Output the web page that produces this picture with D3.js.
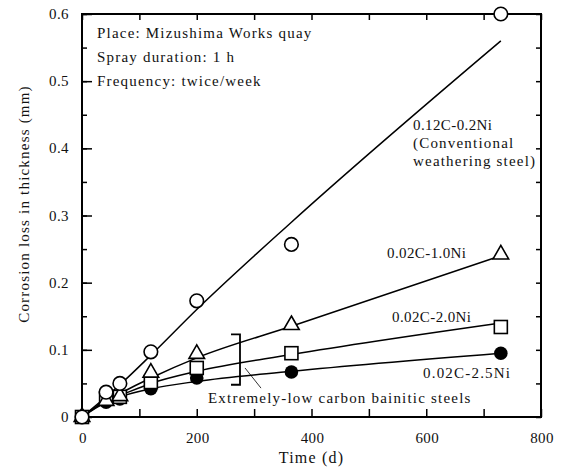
<html>
<head>
<style>
  body { margin:0; background:#fff; }
  text { font-family:"Liberation Serif", "DejaVu Serif", serif; fill:#111; font-size:15px; }
  .fit { fill:none; stroke:#000; stroke-width:1.5; }
  .frame { fill:none; stroke:#000; stroke-width:2; }
  .wide { letter-spacing:1.2px; }
  .num { letter-spacing:0.4px; }
</style>
</head>
<body>
<script src="https://cdn.jsdelivr.net/npm/d3@7/dist/d3.min.js"></script>
<script>
var width = 570, height = 473;
var margin = {top:14, right:29, bottom:56, left:82};

// measured exposure times (days)
var days = [0, 42, 66, 120, 200, 365, 730];
// measured corrosion loss (mm)
var steel012C02Ni = [0, 0.037, 0.050, 0.097, 0.173, 0.257, 0.600];
var steel002C10Ni = [0, 0.024, 0.031, 0.066, 0.094, 0.137, 0.242];
var steel002C20Ni = [0, 0.028, 0.030, 0.052, 0.073, 0.095, 0.134];
var steel002C25Ni = [0, 0.022, 0.027, 0.042, 0.058, 0.067, 0.095];
// fitted curves
var fit012C02Ni = [0, 0.030, 0.048, 0.092, 0.160, 0.290, 0.560];
var fit002C10Ni = [0, 0.024, 0.035, 0.058, 0.088, 0.135, 0.240];
var fit002C20Ni = [0, 0.024, 0.032, 0.050, 0.068, 0.093, 0.140];
var fit002C25Ni = [0, 0.022, 0.030, 0.042, 0.053, 0.068, 0.095];

var xTicks = [0, 200, 400, 600, 800];
var yTicks = [0, 0.1, 0.2, 0.3, 0.4, 0.5, 0.6];
var infoLines = ["Place: Mizushima Works quay", "Spray duration: 1 h", "Frequency: twice/week"];

var svg = d3.select("body").append("svg")
    .attr("width", width)
    .attr("height", height);

var x = d3.scaleLinear().domain([0, 800]).range([margin.left, width - margin.right]);
var y = d3.scaleLinear().domain([0, 0.6]).range([height - margin.bottom, margin.top]);

// inward ticks on all four sides
var xMinor = d3.range(0, 801, 100), yMinor = d3.range(0, 0.601, 0.05);
svg.append("g").attr("transform", "translate(0," + y(0) + ")")
    .call(d3.axisBottom(x).tickValues(xMinor).tickSize(-8).tickFormat(""))
    .call(g => g.select(".domain").remove());
svg.append("g").attr("transform", "translate(0," + y(0.6) + ")")
    .call(d3.axisTop(x).tickValues(xMinor).tickSize(-6).tickFormat(""))
    .call(g => g.select(".domain").remove());
svg.append("g").attr("transform", "translate(" + x(0) + ",0)")
    .call(d3.axisLeft(y).tickValues(yTicks).tickSize(-10).tickFormat(""))
    .call(g => g.select(".domain").remove());
svg.append("g").attr("transform", "translate(" + x(0) + ",0)")
    .call(d3.axisLeft(y).tickValues(yMinor).tickSize(-5).tickFormat(""))
    .call(g => g.select(".domain").remove());
svg.append("g").attr("transform", "translate(" + x(800) + ",0)")
    .call(d3.axisRight(y).tickValues(yMinor).tickSize(-5).tickFormat(""))
    .call(g => g.select(".domain").remove());
svg.selectAll(".tick line").attr("stroke", "#000").attr("stroke-width", 1.5);

svg.append("rect").attr("class", "frame")
    .attr("x", x(0)).attr("y", y(0.6))
    .attr("width", x(800) - x(0)).attr("height", y(0) - y(0.6));

// tick labels
svg.selectAll(".xl").data(xTicks).enter().append("text").attr("class", "num")
    .attr("x", d => x(d) + 1).attr("y", y(0) + 26)
    .attr("text-anchor", "middle")
    .text(d => d);
svg.selectAll(".yl").data(yTicks).enter().append("text").attr("class", "num")
    .attr("x", x(0) - 13).attr("y", d => y(d) + 5)
    .attr("text-anchor", "end")
    .text(d => d === 0 ? "0" : d.toFixed(1));

svg.append("text").attr("class", "wide")
    .attr("x", (x(0) + x(800)) / 2).attr("y", height - 10)
    .attr("text-anchor", "middle").style("font-size", "16px").text("Time (d)");
svg.append("text").attr("class", "wide")
    .attr("transform", "translate(29,204) rotate(-90)")
    .attr("text-anchor", "middle")
    .text("Corrosion loss in thickness (mm)");

svg.selectAll(".info").data(infoLines).enter().append("text").attr("class", "wide")
    .attr("x", 97).attr("y", (d, i) => 38 + i * 24)
    .text(d => d);

// fitted curves
var line = d3.line().x((d, i) => x(days[i])).y(d => y(d)).curve(d3.curveMonotoneX);
[fit012C02Ni, fit002C10Ni, fit002C20Ni, fit002C25Ni].forEach(function(f){
    svg.append("path").attr("class", "fit").attr("d", line(f));
});

// markers
var pts = function(arr){ return arr.map((v, i) => [days[i], v]); };
svg.selectAll(".fc").data(pts(steel002C25Ni)).enter().append("circle")
    .attr("cx", d => x(d[0])).attr("cy", d => y(d[1])).attr("r", 6.8)
    .attr("fill", "#000");
svg.selectAll(".sq").data(pts(steel002C20Ni)).enter().append("rect")
    .attr("x", d => x(d[0]) - 6.5).attr("y", d => y(d[1]) - 6.5)
    .attr("width", 13).attr("height", 13)
    .attr("fill", "#fff").attr("stroke", "#000").attr("stroke-width", 1.6);
var tri = d3.symbol().type(d3.symbolTriangle).size(105);
svg.selectAll(".tr").data(pts(steel002C10Ni)).enter().append("path")
    .attr("d", tri).attr("transform", d => "translate(" + x(d[0]) + "," + y(d[1]) + ")")
    .attr("fill", "#fff").attr("stroke", "#000").attr("stroke-width", 1.6);
svg.selectAll(".oc").data(pts(steel012C02Ni)).enter().append("circle")
    .attr("cx", d => x(d[0])).attr("cy", d => y(d[1])).attr("r", 6.8)
    .attr("fill", "#fff").attr("stroke", "#000").attr("stroke-width", 1.6);

// series labels
var labels = [
    {t:"0.12C-0.2Ni", x:413, y:130, c:"num"},
    {t:"(Conventional", x:413, y:148, c:"wide"},
    {t:"weathering steel)", x:413, y:166, c:"wide"},
    {t:"0.02C-1.0Ni", x:387, y:258, c:"num"},
    {t:"0.02C-2.0Ni", x:392, y:322, c:"num"},
    {t:"0.02C-2.5Ni", x:423, y:378, c:"wide"},
    {t:"Extremely-low carbon bainitic steels", x:208, y:403, c:"wide"}
];
svg.selectAll(".lab").data(labels).enter().append("text")
    .attr("class", d => d.c)
    .attr("x", d => d.x).attr("y", d => d.y)
    .text(d => d.t);

// bracket grouping the low-carbon steels
svg.append("path")
    .attr("d", "M231," + y(0.123) + "H240V" + y(0.048) + "H231")
    .attr("fill", "none").attr("stroke", "#000").attr("stroke-width", 1.8);
svg.append("line")
    .attr("x1", 245).attr("y1", y(0.073)).attr("x2", 261).attr("y2", y(0.043))
    .attr("stroke", "#000").attr("stroke-width", 0.8);
</script>
</body>
</html>
